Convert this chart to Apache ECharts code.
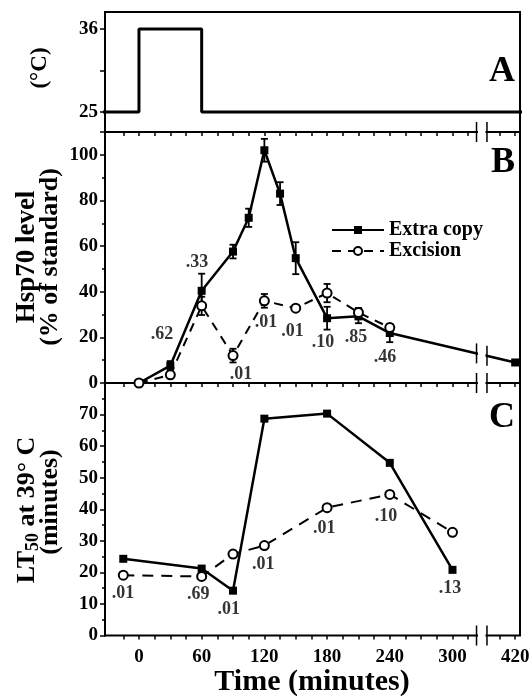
<!DOCTYPE html>
<html>
<head>
<meta charset="utf-8">
<script src="https://cdn.jsdelivr.net/npm/echarts@6.0.0/dist/echarts.min.js"></script>
<style>
html, body { margin: 0; padding: 0; background: #fff; }
#chart { width: 530px; height: 696px; }
</style>
</head>
<body>
<div id="chart"></div>
<script>
// A: temperature protocol (°C)
const tempTimes = [-40, 0, 0, 60, 60, 430];
const tempValues = [25, 25, 36, 36, 25, 25];

// B: Hsp70 level (% of standard)
const hspTimesExtra = [0, 30, 60, 90, 105, 120, 135, 150, 180, 210, 240, 420];
const hspExtra = [0, 7.6, 40.4, 57.6, 72.4, 102, 83, 54.7, 28.4, 29.2, 21.9, 9];
const hspExtraErr = [0, 2, 7.5, 3, 4, 5, 5, 7, 5, 3, 4, 0];
const hspTimesExc = [0, 30, 60, 90, 120, 150, 180, 210, 240];
const hspExc = [0, 3.6, 33.8, 12, 36, 32.8, 39.4, 30.9, 24.3];
const hspExcErr = [0, 0, 4, 3, 3, 0, 4, 2, 0];
const hspP = ['.62', '.33', '.01', '.01', '.01', '.10', '.85', '.46'];
const hspPTimes = [22, 55.5, 97.6, 121.5, 147, 176, 207.6, 235.4];
const hspPLevels = [21.2, 52.7, 3.6, 26.8, 22.5, 17.7, 19.9, 11.1];

// C: LT50 at 39 °C (minutes)
const ltTimes = [-15, 60, 90, 120, 180, 240, 300];
const ltExtra = [24.3, 21.2, 14.2, 68.7, 70.3, 54.7, 20.8];
const ltExc = [19.1, 18.7, 25.8, 28.5, 40.5, 44.7, 32.7];
const ltP = ['.01', '.69', '.01', '.01', '.01', '.10', '.13'];
const ltPTimes = [-15.3, 56.8, 86, 119, 177.4, 236.4, 297.6];
const ltPLevels = [13.5, 12.9, 8.2, 22.6, 34, 37.7, 15];

// time axis ticks and labels (minutes)
const timeTicks = [-15, 0, 15, 30, 45, 60, 75, 90, 105, 120, 135, 150, 165, 180,
  195, 210, 225, 240, 255, 270, 285, 300, 315, 405, 420];
const timeLabels = [0, 60, 120, 180, 240, 300, 420];

// broken axis: everything past the break is pulled left by 60 min
const BREAK_AT = 330;
const BREAK_SHIFT = 60;
const axisT = (t) => (t > BREAK_AT + 30 ? t - BREAK_SHIFT : t);
const realT = (v) => (v > BREAK_AT ? v + BREAK_SHIFT : v);

const FONT = "'Liberation Serif', 'Times New Roman', serif";
const BLACK = '#000';

const pairs = (times, vals) => times.map((t, i) => [axisT(t), vals[i]]);

function errorBars(times, vals, errs, xi, yi) {
  const data = [];
  times.forEach((t, i) => {
    if (errs[i] > 0) data.push([axisT(t), vals[i] - errs[i], vals[i] + errs[i]]);
  });
  return {
    type: 'custom',
    xAxisIndex: xi,
    yAxisIndex: yi,
    z: 3,
    silent: true,
    encode: { x: 0, y: [1, 2] },
    data: data,
    renderItem: (params, api) => {
      const lo = api.coord([api.value(0), api.value(1)]);
      const hi = api.coord([api.value(0), api.value(2)]);
      const w = 3.5;
      const st = { stroke: BLACK, lineWidth: 1.8 };
      return {
        type: 'group',
        children: [
          { type: 'line', shape: { x1: lo[0], y1: lo[1], x2: hi[0], y2: hi[1] }, style: st },
          { type: 'line', shape: { x1: lo[0] - w, y1: lo[1], x2: lo[0] + w, y2: lo[1] }, style: st },
          { type: 'line', shape: { x1: hi[0] - w, y1: hi[1], x2: hi[0] + w, y2: hi[1] }, style: st },
        ],
      };
    },
  };
}

function pLabels(texts, times, levels, xi, yi) {
  return {
    type: 'scatter',
    xAxisIndex: xi,
    yAxisIndex: yi,
    symbolSize: 1,
    silent: true,
    itemStyle: { color: 'rgba(0,0,0,0)' },
    data: texts.map((s, i) => [axisT(times[i]), levels[i], s]),
    label: {
      show: true,
      position: 'inside',
      formatter: (p) => p.value[2],
      color: BLACK,
      fontFamily: FONT,
      fontWeight: 'bold',
      fontSize: 18,
    },
    z: 6,
  };
}

const extraStyle = {
  type: 'line',
  name: 'Extra copy',
  symbol: 'rect',
  symbolSize: 8,
  itemStyle: { color: BLACK },
  lineStyle: { color: BLACK, width: 2.5 },
  z: 4,
};
const excStyle = {
  type: 'line',
  name: 'Excision',
  symbol: 'circle',
  symbolSize: 9,
  itemStyle: { color: '#fff', borderColor: BLACK, borderWidth: 2 },
  lineStyle: { color: BLACK, width: 2, type: [9, 7] },
  z: 5,
};

const xRange = { min: -32.5, max: 364.6 };
const hidden = { show: false };
function xAxis(grid, position, opts) {
  return Object.assign({
    type: 'value',
    gridIndex: grid,
    position: position,
    min: xRange.min,
    max: xRange.max,
    splitLine: hidden,
    axisLine: hidden,
    axisLabel: hidden,
    axisTick: hidden,
  }, opts || {});
}
const tickIn = {
  show: true, inside: true, length: 4, customValues: timeTicks.map(axisT),
  lineStyle: { color: BLACK, width: 1.5 },
};

const yLabel = { color: BLACK, fontFamily: FONT, fontWeight: 'bold', fontSize: 19, margin: 7 };
const yLine = { show: true, onZero: false, lineStyle: { color: BLACK, width: 2 } };

const chart = echarts.init(document.getElementById('chart'));
chart.setOption({
  animation: false,
  backgroundColor: '#fff',
  grid: [
    { left: 105, top: 12, width: 415, height: 120, show: true, borderColor: BLACK, borderWidth: 2, outerBoundsMode: 'none' },
    { left: 105, top: 132, width: 415, height: 251, show: true, borderColor: BLACK, borderWidth: 2, outerBoundsMode: 'none' },
    { left: 105, top: 383, width: 415, height: 252.5, show: true, borderColor: BLACK, borderWidth: 2, outerBoundsMode: 'none' },
  ],
  xAxis: [
    xAxis(0, 'bottom'),
    xAxis(1, 'bottom'),
    xAxis(1, 'top', { axisTick: tickIn }),
    xAxis(2, 'bottom', {
      axisTick: Object.assign({}, tickIn, { inside: false }),
      axisLabel: {
        show: true,
        customValues: timeLabels.map(axisT),
        formatter: (v) => String(realT(v)),
        color: BLACK, fontFamily: FONT, fontWeight: 'bold', fontSize: 19, margin: 12,
      },
    }),
    xAxis(2, 'top', { axisTick: tickIn }),
  ],
  yAxis: [
    {
      type: 'value', gridIndex: 0, min: 22.35, max: 38.25,
      splitLine: hidden, axisLine: yLine,
      axisTick: { show: true, length: 5, customValues: [25, 30.5, 36], lineStyle: { color: BLACK, width: 1.5 } },
      axisLabel: Object.assign({ customValues: [25, 36] }, yLabel),
    },
    {
      type: 'value', gridIndex: 1, min: 0, max: 110, interval: 20,
      splitLine: hidden, axisLine: yLine,
      axisTick: { show: true, length: 5, lineStyle: { color: BLACK, width: 1.5 } },
      minorTick: { show: true, splitNumber: 2, length: 3, lineStyle: { color: BLACK, width: 1.5 } },
      axisLabel: Object.assign({ showMaxLabel: false }, yLabel),
    },
    {
      type: 'value', gridIndex: 2, min: 0, max: 80, interval: 10,
      splitLine: hidden, axisLine: yLine,
      axisTick: { show: true, length: 5, lineStyle: { color: BLACK, width: 1.5 } },
      minorTick: { show: true, splitNumber: 2, length: 3, lineStyle: { color: BLACK, width: 1.5 } },
      axisLabel: Object.assign({ showMaxLabel: false }, yLabel),
    },
  ],
  legend: {
    data: ['Extra copy', 'Excision'],
    orient: 'vertical',
    left: 326,
    top: 215,
    itemWidth: 52,
    itemHeight: 10,
    itemGap: 1,
    selectedMode: false,
    textStyle: { color: BLACK, fontFamily: FONT, fontWeight: 'bold', fontSize: 20 },
  },
  series: [
    {
      type: 'line', xAxisIndex: 0, yAxisIndex: 0, symbol: 'none',
      data: pairs(tempTimes, tempValues),
      lineStyle: { color: BLACK, width: 3 },
    },
    errorBars(hspTimesExtra, hspExtra, hspExtraErr, 1, 1),
    errorBars(hspTimesExc, hspExc, hspExcErr, 1, 1),
    Object.assign({}, extraStyle, { xAxisIndex: 1, yAxisIndex: 1, data: pairs(hspTimesExtra, hspExtra) }),
    Object.assign({}, excStyle, { xAxisIndex: 1, yAxisIndex: 1, data: pairs(hspTimesExc, hspExc) }),
    pLabels(hspP, hspPTimes, hspPLevels, 1, 1),
    Object.assign({}, extraStyle, { xAxisIndex: 3, yAxisIndex: 2, data: pairs(ltTimes, ltExtra) }),
    Object.assign({}, excStyle, {
      xAxisIndex: 3, yAxisIndex: 2, data: pairs(ltTimes, ltExc),
      lineStyle: { color: BLACK, width: 2, type: [11, 8] },
    }),
    pLabels(ltP, ltPTimes, ltPLevels, 3, 2),
  ],
});

// axis titles and panel letters
const titleFont = (size, weight) => ({ fontFamily: FONT, fontSize: size, fontWeight: weight, fill: BLACK });
const graphics = [
  { type: 'text', x: 40, y: 68, rotation: Math.PI / 2,
    style: Object.assign({ text: '(°C)', align: 'center', verticalAlign: 'middle' }, titleFont(23, 'bold')) },
  { type: 'text', x: 27, y: 257, rotation: Math.PI / 2,
    style: Object.assign({ text: 'Hsp70 level', align: 'center', verticalAlign: 'middle' }, titleFont(27, 'bold')) },
  { type: 'text', x: 50, y: 257, rotation: Math.PI / 2,
    style: Object.assign({ text: '(% of standard)', align: 'center', verticalAlign: 'middle' }, titleFont(26, 'bold')) },
  { type: 'text', x: 27, y: 510, rotation: Math.PI / 2,
    style: {
      text: '{m|LT}{s|50}{m| at 39° C}', align: 'center', verticalAlign: 'middle',
      rich: {
        m: Object.assign({ lineHeight: 30, verticalAlign: 'middle' }, titleFont(26, 'bold')),
        s: Object.assign({ lineHeight: 30, verticalAlign: 'bottom' }, titleFont(18, 'bold')),
      },
    } },
  { type: 'text', x: 50, y: 502, rotation: Math.PI / 2,
    style: Object.assign({ text: '(minutes)', align: 'center', verticalAlign: 'middle' }, titleFont(26, 'bold')) },
  { type: 'text', x: 312, y: 682,
    style: Object.assign({ text: 'Time (minutes)', align: 'center', verticalAlign: 'middle' }, titleFont(30, 'bold')) },
  { type: 'text', x: 515, y: 72,
    style: Object.assign({ text: 'A', align: 'right', verticalAlign: 'middle' }, titleFont(36, 'bold')) },
  { type: 'text', x: 515, y: 163,
    style: Object.assign({ text: 'B', align: 'right', verticalAlign: 'middle' }, titleFont(36, 'bold')) },
  { type: 'text', x: 515, y: 418,
    style: Object.assign({ text: 'C', align: 'right', verticalAlign: 'middle' }, titleFont(36, 'bold')) },
];

// axis-break marks, placed from the axis scales
const b1 = chart.convertToPixel({ xAxisIndex: 1 }, 323);
const b2 = chart.convertToPixel({ xAxisIndex: 1 }, 333);
const yTop = chart.convertToPixel({ yAxisIndex: 1 }, 110);
const yMid = chart.convertToPixel({ yAxisIndex: 1 }, 0);
const yBot = chart.convertToPixel({ yAxisIndex: 2 }, 0);
const n = hspTimesExtra.length;
const t0 = axisT(hspTimesExtra[n - 2]), t1 = axisT(hspTimesExtra[n - 1]);
const v0 = hspExtra[n - 2], v1 = hspExtra[n - 1];
const lineAt = (t) => chart.convertToPixel({ xAxisIndex: 1, yAxisIndex: 1 }, [t, v0 + (v1 - v0) * (t - t0) / (t1 - t0)])[1];
const markSets = [[yTop, yTop], [yMid, yMid], [yBot, yBot], [lineAt(323), lineAt(333)]];
markSets.forEach(([ya, yb]) => {
  // white gap in the line that crosses the break
  graphics.push({
    type: 'rect', z: 100,
    shape: { x: b1 + 1.5, y: Math.min(ya, yb) - 5, width: b2 - b1 - 3, height: Math.abs(yb - ya) + 10 },
    style: { fill: '#fff' },
  });
  [[b1, ya], [b2, yb]].forEach(([x, y]) => {
    graphics.push({
      type: 'line', z: 101,
      shape: { x1: x, y1: y - 10, x2: x, y2: y + 10 },
      style: { stroke: BLACK, lineWidth: 1.5 },
    });
  });
});
chart.setOption({ graphic: graphics });
</script>
</body>
</html>
